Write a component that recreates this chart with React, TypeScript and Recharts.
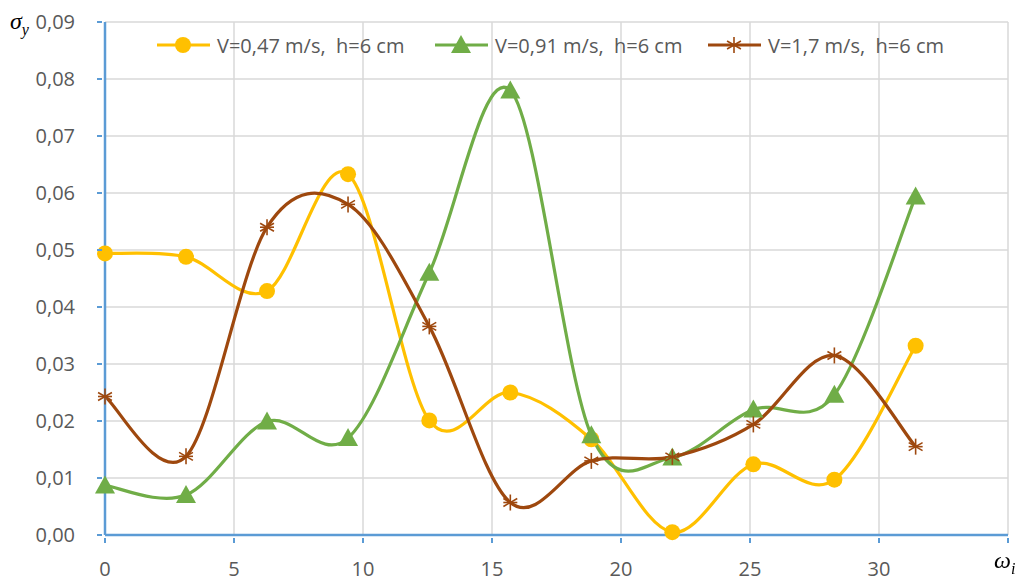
import { CartesianGrid, Line, LineChart, XAxis, YAxis } from "recharts";

const omega = [0, 3.14, 6.28, 9.42, 12.57, 15.71, 18.85, 21.99, 25.13, 28.27, 31.42];
const slow = [0.0494, 0.0488, 0.0428, 0.0633, 0.0201, 0.025, 0.0168, 0.0005, 0.0124, 0.0097, 0.0332];
const medium = [0.0087, 0.007, 0.0199, 0.017, 0.046, 0.078, 0.0175, 0.0136, 0.022, 0.0246, 0.0594];
const fast = [0.0243, 0.0138, 0.054, 0.058, 0.0366, 0.0057, 0.013, 0.0137, 0.0194, 0.0315, 0.0155];
const xTicks = [0, 5, 10, 15, 20, 25, 30, 35];
const yTicks = [0, 0.01, 0.02, 0.03, 0.04, 0.05, 0.06, 0.07, 0.08, 0.09];
const seriesNames = ["V=0,47 m/s,  h=6 cm", "V=0,91 m/s,  h=6 cm", "V=1,7 m/s,  h=6 cm"];

const YELLOW = "#FFC000";
const GREEN = "#70AD47";
const BROWN = "#9E480E";
const AXIS = "#5B9BD5";
const TEXT = "#595959";
const FONT = "'Open Sans', sans-serif";

const data = omega.map((w, i) => ({ w, slow: slow[i], medium: medium[i], fast: fast[i] }));

// smooth line like the spreadsheet: catmull-rom bezier through every point
function smoothCurve(context: any) {
  let xs: number[] = [];
  let ys: number[] = [];
  return {
    areaStart() {},
    areaEnd() {},
    lineStart() {
      xs = [];
      ys = [];
    },
    lineEnd() {
      const n = xs.length;
      if (!n) return;
      context.moveTo(xs[0], ys[0]);
      for (let i = 0; i < n - 1; i++) {
        const a = i > 0 ? i - 1 : i;
        const d = i + 2 < n ? i + 2 : i + 1;
        context.bezierCurveTo(
          xs[i] + (xs[i + 1] - xs[a]) / 6,
          ys[i] + (ys[i + 1] - ys[a]) / 6,
          xs[i + 1] - (xs[d] - xs[i]) / 6,
          ys[i + 1] - (ys[d] - ys[i]) / 6,
          xs[i + 1],
          ys[i + 1]
        );
      }
    },
    point(x: number, y: number) {
      xs.push(+x);
      ys.push(+y);
    },
  };
}

function Circle({ cx, cy }: any) {
  return <circle cx={cx} cy={cy} r={8} fill={YELLOW} />;
}

function Triangle({ cx, cy }: any) {
  return <polygon points={`${cx},${cy - 10} ${cx + 10},${cy + 8} ${cx - 10},${cy + 8}`} fill={GREEN} />;
}

function Star({ cx, cy }: any) {
  const r = 8;
  const lines = [0, 60, 120].map((deg) => {
    const t = ((deg + 90) * Math.PI) / 180;
    return (
      <line
        key={deg}
        x1={cx - r * Math.cos(t)}
        y1={cy - r * Math.sin(t)}
        x2={cx + r * Math.cos(t)}
        y2={cy + r * Math.sin(t)}
        stroke={BROWN}
        strokeWidth={1.6}
      />
    );
  });
  return (
    <g>
      {lines}
      <line x1={cx - 7} y1={cy} x2={cx + 7} y2={cy} stroke={BROWN} strokeWidth={1.6} />
    </g>
  );
}

function XTick({ x, y, payload }: any) {
  return (
    <g>
      <line x1={x} y1={y} x2={x} y2={y - 5} stroke={AXIS} strokeWidth={2} />
      {payload.value < 35 && (
        <text x={x} y={y + 33} textAnchor="middle" fill={TEXT} fontSize={20} fontFamily={FONT}>
          {payload.value}
        </text>
      )}
    </g>
  );
}

function YTick({ x, y, payload }: any) {
  return (
    <g>
      <line x1={x} y1={y} x2={x + 5} y2={y} stroke={AXIS} strokeWidth={2} />
      <text x={x - 22} y={y + 7} textAnchor="end" fill={TEXT} fontSize={20} fontFamily={FONT}>
        {payload.value.toFixed(2).replace(".", ",")}
      </text>
    </g>
  );
}

const legendLeft = [156, 434, 707];

function LegendRow() {
  const markers = [
    <Circle cx={27} cy={12} />,
    <Triangle cx={27} cy={12} />,
    <Star cx={27} cy={12} />,
  ];
  const colors = [YELLOW, GREEN, BROWN];
  return (
    <>
      {seriesNames.map((name, i) => (
        <div
          key={name}
          style={{
            position: "absolute",
            left: legendLeft[i],
            top: 32,
            display: "flex",
            alignItems: "center",
            fontFamily: FONT,
            fontSize: 20,
            color: TEXT,
            height: 26,
          }}
        >
          <svg width={56} height={24}>
            <line x1={1} y1={12} x2={54} y2={12} stroke={colors[i]} strokeWidth={3} />
            {markers[i]}
          </svg>
          <span style={{ whiteSpace: "pre", marginLeft: 5 }}>{name}</span>
        </div>
      ))}
    </>
  );
}

export default function App() {
  return (
    <div style={{ position: "fixed", left: 0, top: 0, width: 1024, height: 581, background: "#fff" }}>
      <LineChart width={1024} height={581} data={data} margin={{ top: 22, right: 16, bottom: 0, left: 0 }}>
        <CartesianGrid stroke="#D9D9D9" strokeWidth={1.5} />
        <XAxis
          type="number"
          dataKey="w"
          height={46}
          domain={[0, 35]}
          ticks={xTicks}
          interval={0}
          axisLine={{ stroke: AXIS, strokeWidth: 2.5 }}
          tickLine={false}
          tick={<XTick />}
        />
        <YAxis
          width={105}
          domain={[0, 0.09]}
          ticks={yTicks}
          interval={0}
          axisLine={{ stroke: AXIS, strokeWidth: 2.5 }}
          tickLine={false}
          tick={<YTick />}
        />
        <Line dataKey="slow" type={smoothCurve as any} stroke={YELLOW} strokeWidth={3.2} dot={<Circle />} isAnimationActive={false} />
        <Line dataKey="medium" type={smoothCurve as any} stroke={GREEN} strokeWidth={3.2} dot={<Triangle />} isAnimationActive={false} />
        <Line dataKey="fast" type={smoothCurve as any} stroke={BROWN} strokeWidth={3.2} dot={<Star />} isAnimationActive={false} />
      </LineChart>
      <LegendRow />
      <div style={{ position: "absolute", left: 10, top: 8, fontFamily: "'Liberation Serif', serif", fontStyle: "italic", fontSize: 24, color: "#000" }}>
        σ<sub style={{ fontSize: 16 }}>y</sub>
      </div>
      <div style={{ position: "absolute", left: 994, top: 546, fontFamily: "'Liberation Serif', serif", fontStyle: "italic", fontSize: 24, color: "#000", lineHeight: "28px" }}>
        ω<sub style={{ fontSize: 16 }}>i</sub>
      </div>
    </div>
  );
}
